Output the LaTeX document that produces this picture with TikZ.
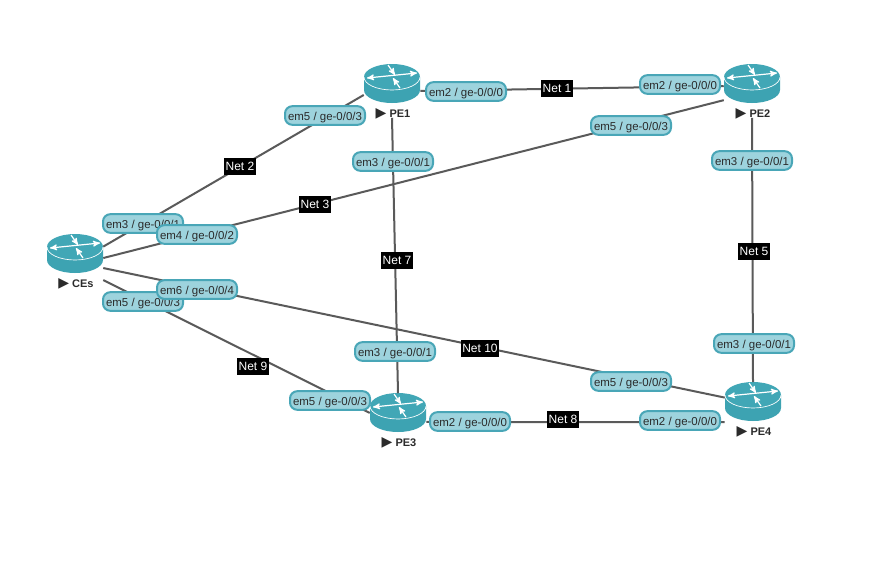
\documentclass[tikz,border=0pt]{standalone}
\usepackage{fontspec}
\setmainfont{Liberation Sans}
\newfontfamily\symfont{DejaVu Sans}
\usetikzlibrary{arrows}
\definecolor{routertop}{HTML}{41A7B6}
\definecolor{routerside}{HTML}{3DA3B2}
\definecolor{ifacefill}{HTML}{9DD3DD}
\definecolor{ifaceline}{HTML}{49A6B7}
\definecolor{linkline}{HTML}{5A5A5A}
\definecolor{labeltext}{HTML}{2B2B2B}
\tikzset{
  router/.style={rectangle,minimum width=42pt,minimum height=39.75pt,inner sep=0pt},
  iface/.style={rectangle,rounded corners=5.5pt,draw=ifaceline,line width=1.5pt,fill=ifacefill,
    text=labeltext,font=\fontsize{8.6pt}{10pt}\selectfont,minimum width=60pt,minimum height=14pt,
    text height=7.5pt,text depth=0pt,inner sep=0pt},
  net/.style={rectangle,fill=black,text=white,font=\fontsize{9pt}{11pt}\selectfont,
    minimum height=12.5pt,inner xsep=1pt,inner ysep=0pt},
  devname/.style={text=labeltext,font=\fontsize{8.25pt}{10pt}\selectfont\bfseries,inner sep=0pt},
  link/.style={draw=linkline,line width=1.5pt},
  wheel/.style={white,line width=0.9pt,>=stealth'}
}
% router: name, x, y (centre of the node), text
\newcommand{\router}[4]{
  \node[router] (#1) at (#2,#3) {};
  \begin{scope}[shift={(#2,#3)}]
    \fill[routerside] (-28,-14) -- (-28,-1) arc[x radius=28,y radius=13,start angle=180,end angle=0] -- (28,-14) -- cycle;
    \fill[routertop] (0,-14) ellipse[x radius=28,y radius=13];
    \draw[white,line width=0.5pt] (-28,-14) arc[x radius=28,y radius=13,start angle=180,end angle=0];
    \draw[wheel,<->] (-25,-13) -- (25,-18);
    \draw[wheel,->] (-4,-26) -- (3,-16);
    \draw[wheel,->] (8,-3) -- (1,-13);
  \end{scope}
  \node[devname] (#1Name) at (#2+1,#3+22.5) {{\symfont\fontsize{10.5pt}{10pt}\selectfont ▶}\ #4};
}

\begin{document}
\begin{tikzpicture}[x=0.75pt,y=-0.75pt]

  \useasboundingbox[fill=white] (0,0) rectangle (892,575);

  \router{CEs}{75}{261}{CEs}
  \router{PE1}{392}{91}{PE1}
  \router{PE2}{752}{91}{PE2}
  \router{PE3}{398}{420}{PE3}
  \router{PE4}{753}{409}{PE4}

  \path[link]
    (PE1.east) edge (PE2.170)
    (PE1.south) edge (PE3.north)
    (PE2.south) edge (PE4.north)
    (PE3.-4) edge (PE4.205)
    (CEs.27) edge (PE1.188)
    (CEs.6) edge (PE2.198)
    (CEs.-14) edge (PE4.158)
    (CEs.-34) edge (PE3.166);

  \node[iface] (CesEm3) at (143,223.5) {em3 / ge-0/0/1};
  \node[iface] (CesEm5) at (143,301.5) {em5 / ge-0/0/3};
  \node[iface] (CesEm4) at (197,234.5) {em4 / ge-0/0/2};
  \node[iface] (CesEm6) at (197,289.5) {em6 / ge-0/0/4};

  \node[iface] (PeOneEm5) at (325,115.5) {em5 / ge-0/0/3};
  \node[iface] (PeOneEm2) at (466,91.5) {em2 / ge-0/0/0};
  \node[iface] (PeOneEm3) at (393,161.5) {em3 / ge-0/0/1};

  \node[iface] (PeTwoEm2) at (680,84.5) {em2 / ge-0/0/0};
  \node[iface] (PeTwoEm5) at (631,125.5) {em5 / ge-0/0/3};
  \node[iface] (PeTwoEm3) at (752,160.5) {em3 / ge-0/0/1};

  \node[iface] (PeThreeEm3) at (395,351.5) {em3 / ge-0/0/1};
  \node[iface] (PeThreeEm5) at (330,400.5) {em5 / ge-0/0/3};
  \node[iface] (PeThreeEm2) at (470,421.5) {em2 / ge-0/0/0};

  \node[iface] (PeFourEm3) at (754,343.5) {em3 / ge-0/0/1};
  \node[iface] (PeFourEm5) at (631,381.5) {em5 / ge-0/0/3};
  \node[iface] (PeFourEm2) at (680,420.5) {em2 / ge-0/0/0};

  \node[net] (NetOne) at (557,88.5) {Net 1};
  \node[net] (NetTwo) at (240,166.5) {Net 2};
  \node[net] (NetThree) at (315,204.5) {Net 3};
  \node[net] (NetFive) at (754,251.5) {Net 5};
  \node[net] (NetSeven) at (397,260.5) {Net 7};
  \node[net] (NetEight) at (563,419.5) {Net 8};
  \node[net] (NetNine) at (253,366.5) {Net 9};
  \node[net] (NetTen) at (480,348.5) {Net 10};

\end{tikzpicture}
\end{document}
